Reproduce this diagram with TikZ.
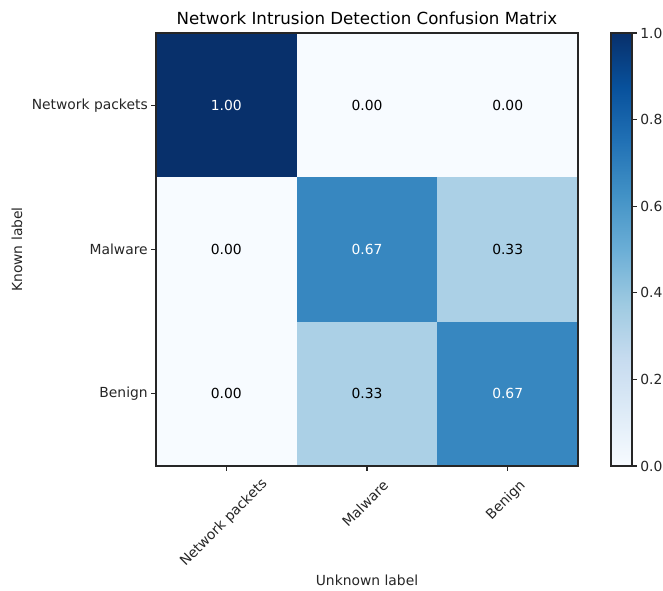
\documentclass[tikz,border=0pt]{standalone}
\usepackage{fontspec}
\setmainfont{DejaVu Sans}
\definecolor{bl0}{HTML}{F7FBFF}
\definecolor{bl1}{HTML}{DEEBF7}
\definecolor{bl2}{HTML}{C6DBEF}
\definecolor{bl3}{HTML}{9ECAE1}
\definecolor{bl4}{HTML}{6BAED6}
\definecolor{bl5}{HTML}{4292C6}
\definecolor{bl6}{HTML}{2171B5}
\definecolor{bl7}{HTML}{08519C}
\definecolor{bl8}{HTML}{08306B}
\definecolor{v067}{HTML}{3787C0}
\definecolor{v033}{HTML}{ABD0E6}
\definecolor{txt}{HTML}{262626}
\tikzset{
  val/.style={font=\fontsize{10.4}{12}\selectfont, inner sep=0pt},
  tick/.style={line width=0.8pt, draw=txt},
  ticklab/.style={font=\fontsize{10.4}{12}\selectfont, text=txt, inner sep=0pt},
  frame/.style={line width=0.8pt, draw=txt}
}
\begin{document}
\begin{tikzpicture}[x=0.75pt,y=-0.75pt]
\useasboundingbox[fill=white] (0,0) rectangle (663,591);
% cells
\fill[bl8]  (156,33)    rectangle (296.7,177.3);
\fill[bl0]  (296.7,33)  rectangle (437.3,177.3);
\fill[bl0]  (437.3,33)  rectangle (578,177.3);
\fill[bl0]  (156,177.3) rectangle (296.7,321.7);
\fill[v067] (296.7,177.3) rectangle (437.3,321.7);
\fill[v033] (437.3,177.3) rectangle (578,321.7);
\fill[bl0]  (156,321.7) rectangle (296.7,466);
\fill[v033] (296.7,321.7) rectangle (437.3,466);
\fill[v067] (437.3,321.7) rectangle (578,466);
\draw[frame] (156,33) rectangle (578,466);
% values
\node[val,text=white] (c11) at (226.3,105.2) {1.00};
\node[val,text=black] (c12) at (367,105.2) {0.00};
\node[val,text=black] (c13) at (507.7,105.2) {0.00};
\node[val,text=black] (c21) at (226.3,249.5) {0.00};
\node[val,text=white] (c22) at (367,249.5) {0.67};
\node[val,text=black] (c23) at (507.7,249.5) {0.33};
\node[val,text=black] (c31) at (226.3,393.8) {0.00};
\node[val,text=black] (c32) at (367,393.8) {0.33};
\node[val,text=white] (c33) at (507.7,393.8) {0.67};
% y ticks
\foreach \yy in {105.2,249.5,393.8} \draw[tick] (151,\yy) -- (156,\yy);
\node[ticklab,anchor=east] (yl1) at (148,105.2) {Network packets};
\node[ticklab,anchor=east] (yl2) at (148,249.5) {Malware};
\node[ticklab,anchor=east] (yl3) at (148,393.8) {Benign};
% x ticks
\foreach \xx in {226.3,367,507.7} \draw[tick] (\xx,466) -- (\xx,471);
\node[ticklab,rotate=45] (xl1) at (224,523) {Network packets};
\node[ticklab,rotate=45] (xl2) at (365,503.5) {Malware};
\node[ticklab,rotate=45] (xl3) at (506,500.5) {Benign};
% axis labels
\node[ticklab,rotate=90] (ylab) at (17,249.5) {Known label};
\node[ticklab] (xlab) at (367,580) {Unknown label};
\node[font=\fontsize{12.5}{14}\selectfont, text=black, inner sep=0pt] (title) at (367,18) {Network Intrusion Detection Confusion Matrix};
% colorbar
\shade[top color=bl1,bottom color=bl0] (611,412) rectangle (632,466);
\shade[top color=bl2,bottom color=bl1] (611,358) rectangle (632,412.2);
\shade[top color=bl3,bottom color=bl2] (611,303.7) rectangle (632,358.2);
\shade[top color=bl4,bottom color=bl3] (611,249.5) rectangle (632,303.9);
\shade[top color=bl5,bottom color=bl4] (611,195.4) rectangle (632,249.7);
\shade[top color=bl6,bottom color=bl5] (611,141.2) rectangle (632,195.6);
\shade[top color=bl7,bottom color=bl6] (611,87.1) rectangle (632,141.4);
\shade[top color=bl8,bottom color=bl7] (611,33) rectangle (632,87.3);
\draw[frame] (611,33) rectangle (632,466);
\foreach \v/\yy in {0.0/466,0.2/379.4,0.4/292.8,0.6/206.2,0.8/119.6,1.0/33}{
  \draw[tick] (632,\yy) -- (637,\yy);
  \node[ticklab,anchor=west] at (640,\yy) {\v};
}
\end{tikzpicture}
\end{document}
